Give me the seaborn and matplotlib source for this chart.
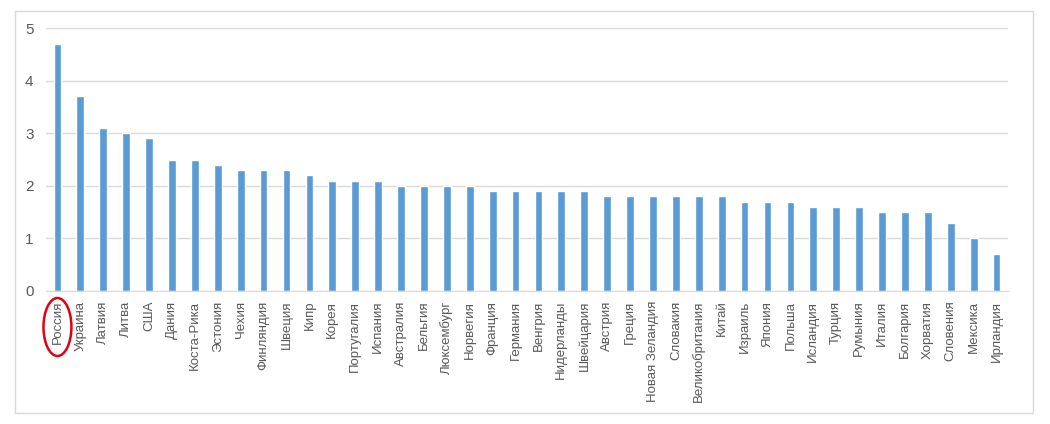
import matplotlib
matplotlib.use("Agg")
import matplotlib.pyplot as plt
import matplotlib.transforms as mtransforms
from matplotlib.patches import Ellipse, Rectangle
import seaborn as sns
import pandas as pd

countries = ["Россия", "Украина", "Латвия", "Литва", "США", "Дания", "Коста-Рика",
             "Эстония", "Чехия", "Финляндия", "Швеция", "Кипр", "Корея", "Португалия",
             "Испания", "Австралия", "Бельгия", "Люксембург", "Норвегия", "Франция",
             "Германия", "Венгрия", "Нидерланды", "Швейцария", "Австрия", "Греция",
             "Новая Зеландия", "Словакия", "Великобритания", "Китай", "Израиль",
             "Япония", "Польша", "Исландия", "Турция", "Румыния", "Италия",
             "Болгария", "Хорватия", "Словения", "Мексика", "Ирландия"]
values = [4.7, 3.7, 3.1, 3.0, 2.9, 2.5, 2.5, 2.4, 2.3, 2.3, 2.3, 2.2, 2.1, 2.1,
          2.1, 2.0, 2.0, 2.0, 2.0, 1.9, 1.9, 1.9, 1.9, 1.9, 1.8, 1.8, 1.8, 1.8,
          1.8, 1.8, 1.7, 1.7, 1.7, 1.6, 1.6, 1.6, 1.5, 1.5, 1.5, 1.3, 1.0, 0.7]
yticks = [0, 1, 2, 3, 4, 5]
highlight = "Россия"

df = pd.DataFrame({"country": countries, "value": values})

sns.set_style("white")
plt.rcParams['font.family'] = ['Liberation Sans', 'DejaVu Sans']

fig = plt.figure(figsize=(10.5, 4.24), dpi=100)
ax = fig.add_axes([46 / 1050, 1 - 291 / 424, (1008 - 46) / 1050, (291 - 28) / 424])

sns.barplot(data=df, x="country", y="value", color="#5B9BD5", saturation=1,
            width=0.34, ax=ax)

ax.set_ylim(0, 5)
ax.set_xlim(-0.5, len(countries) - 0.5)
ax.set_yticks(yticks)
ax.yaxis.grid(True, color="#D9D9D9", linewidth=1)
ax.set_axisbelow(True)
for s in ["top", "right", "left"]:
    ax.spines[s].set_visible(False)
ax.spines["bottom"].set_color("#D9D9D9")
ax.set_xlabel("")
ax.set_ylabel("")
ax.tick_params(axis="both", length=0, colors="#595959")
ax.tick_params(axis="x", labelsize=9.5, pad=7)
ax.tick_params(axis="y", labelsize=11, pad=9)
plt.setp(ax.get_xticklabels(), rotation=90)

# red ellipse around the highlighted label
trans = mtransforms.blended_transform_factory(ax.transData, fig.transFigure)
xi = countries.index(highlight)
ax.add_patch(Ellipse((xi, 1 - 327 / 424), width=1.22, height=58 / 424,
                     transform=trans, fill=False, edgecolor="#E3000F",
                     linewidth=1.8, clip_on=False))

# outer chart border
fig.patches.append(Rectangle((15 / 1050, 1 - 413 / 424), (1033 - 15) / 1050,
                             (413 - 11) / 424, transform=fig.transFigure,
                             fill=False, edgecolor="#D9D9D9", linewidth=1))

fig.savefig("out.png", dpi=100)
